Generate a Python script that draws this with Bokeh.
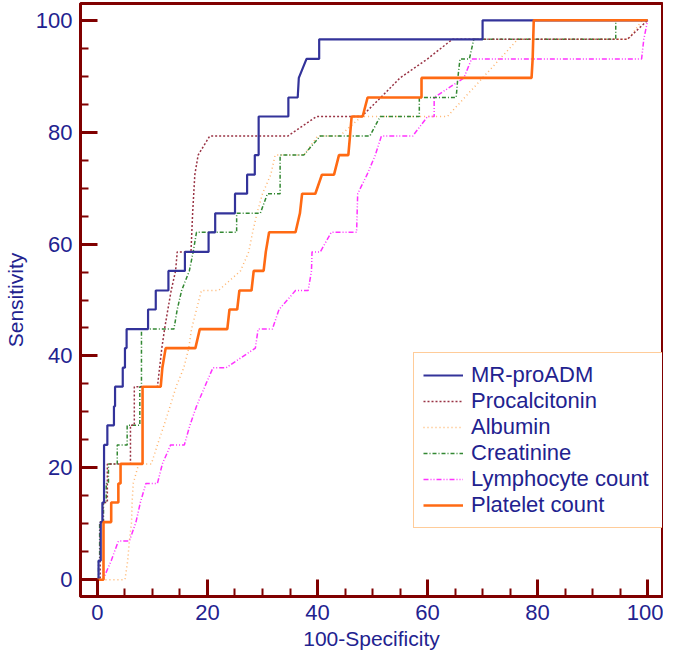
from bokeh.plotting import figure
from bokeh.models import Range1d, FixedTicker, Legend, LegendItem
from bokeh.embed import file_html
from bokeh.resources import INLINE

# ---- data ----
x_ticks = [0, 20, 40, 60, 80, 100]
y_ticks = [0, 20, 40, 60, 80, 100]
minor_ticks = [5, 10, 15, 25, 30, 35, 45, 50, 55, 65, 70, 75, 85, 90, 95]
x_title = "100-Specificity"
y_title = "Sensitivity"

series_names = ["MR-proADM", "Procalcitonin", "Albumin", "Creatinine",
                "Lymphocyte count", "Platelet count"]

mr_proadm_x = [0, 0.2, 0.2, 0.6, 0.6, 0.9, 0.9, 1.2, 1.2, 1.8, 1.8, 3.0, 3.0, 3.2, 3.2,
               4.6, 4.6, 5.0, 5.0, 5.3, 5.3, 9.2, 9.2, 10.6, 10.6, 12.9, 12.9, 15.9, 15.9,
               20.2, 20.2, 21.4, 21.4, 25.0, 25.0, 27.2, 27.2, 28.6, 28.6, 29.3, 29.3,
               34.7, 34.7, 36.4, 36.6, 38.0, 40.3, 40.3, 70.0, 70.0, 100]
mr_proadm_y = [0, 0, 3.4, 3.4, 10.3, 10.3, 13.8, 13.8, 24.1, 24.1, 27.6, 27.6, 31.0, 31.0, 34.5,
               34.5, 37.9, 37.9, 41.4, 41.4, 44.8, 44.8, 48.3, 48.3, 51.7, 51.7, 55.2, 55.2, 58.6,
               58.6, 62.1, 62.1, 65.5, 65.5, 69.0, 69.0, 72.4, 72.4, 75.9, 75.9, 82.8,
               82.8, 86.2, 86.2, 89.7, 93.1, 93.1, 96.6, 96.6, 100, 100]

procalcitonin_x = [0, 0.5, 0.5, 1.0, 1.0, 1.8, 1.8, 6.0, 6.0, 6.7, 6.7, 10.9, 11.3, 11.7, 12.2,
                   12.8, 13.4, 14.2, 14.5, 17.0, 17.3, 17.7, 18.3, 20.4, 34.6, 39.8, 48.0,
                   51.5, 55.0, 60.0, 64.5, 96.3, 100]
procalcitonin_y = [0, 0, 10.3, 10.3, 13.8, 13.8, 20.7, 20.7, 27.6, 27.6, 34.5, 34.5, 37.9, 41.4, 44.8,
                   48.3, 51.7, 55.2, 58.6, 58.6, 65.5, 72.4, 75.9, 79.3, 79.3, 82.8, 82.8,
                   86.2, 89.7, 93.1, 96.6, 96.6, 100]

albumin_x = [0, 5.0, 5.5, 5.8, 6.2, 6.3, 6.5, 7.5, 9.8, 10.9, 12.1, 13.2, 14.3, 15.7, 16.6,
             17.1, 18.0, 18.9, 22.0, 26.0, 27.5, 28.2, 29.0, 30.0, 31.5, 32.3, 37.5, 40.0,
             44.0, 48.0, 63.6, 76.4, 96.5, 99.0, 100]
albumin_y = [0, 0, 3.4, 6.9, 10.3, 13.8, 17.2, 20.7, 20.7, 24.1, 27.6, 31.0, 34.5, 37.9, 41.4,
             44.8, 48.3, 51.7, 51.7, 55.2, 58.6, 62.1, 65.5, 69.0, 72.4, 75.9, 75.9, 79.3,
             79.3, 82.8, 82.8, 96.6, 96.6, 100, 100]

creatinine_x = [0, 0.2, 0.2, 0.4, 0.4, 1.1, 1.1, 1.6, 1.6, 2.0, 2.0, 3.6, 3.6, 5.4, 5.4, 7.7, 7.7,
                8.0, 8.0, 13.9, 14.5, 15.3, 16.7, 17.4, 18.0, 25.3, 25.3, 29.6, 30.9, 33.2,
                33.2, 37.5, 40.5, 49.5, 51.4, 58.5, 58.5, 65.2, 65.5, 65.9, 67.6, 68.4, 94.2,
                94.2, 100]
creatinine_y = [0, 0, 3.4, 3.4, 10.3, 10.3, 13.8, 13.8, 17.2, 17.2, 20.7, 20.7, 24.1, 24.1, 27.6, 27.6,
                34.5, 34.5, 44.8, 44.8, 48.3, 51.7, 55.2, 58.6, 62.1, 62.1, 65.5, 65.5, 69.0, 69.0,
                75.9, 75.9, 79.3, 79.3, 82.8, 82.8, 86.2, 86.2, 89.7, 93.1, 93.1, 96.6, 96.6,
                100, 100]

lymphocyte_x = [0, 1.0, 2.5, 3.8, 5.8, 7.0, 7.8, 8.8, 10.9, 11.8, 13.3, 15.8, 16.8, 18.0, 19.5,
                21.0, 23.4, 28.7, 29.2, 31.8, 33.0, 36.0, 38.3, 38.9, 39.0, 40.5, 42.5, 47.1,
                47.3, 49.0, 50.5, 51.6, 57.3, 60.0, 61.2, 61.2, 66.6, 68.0, 98.9, 99.3, 100]
lymphocyte_y = [0, 0, 3.4, 6.9, 6.9, 10.3, 13.8, 17.2, 17.2, 20.7, 24.1, 24.1, 27.6, 31.0, 34.5,
                37.9, 37.9, 41.4, 44.8, 44.8, 48.3, 51.7, 51.7, 55.2, 58.6, 58.6, 62.1, 62.1,
                69.0, 72.4, 75.9, 79.3, 79.3, 82.8, 82.8, 86.2, 89.7, 93.1, 93.1, 96.6, 100]

platelet_x = [0, 1.1, 1.1, 2.5, 2.5, 3.8, 3.8, 4.2, 4.2, 8.2, 8.2, 11.5, 11.8, 12.4, 17.8, 18.6,
              23.6, 24.0, 25.4, 25.8, 28.0, 28.4, 30.2, 30.6, 31.2, 36.0, 36.8, 37.2, 39.6,
              40.8, 43.0, 43.9, 45.6, 45.9, 46.2, 48.2, 49.1, 58.9, 58.9, 78.9, 79.1, 79.3, 100]
platelet_y = [0, 0, 10.3, 10.3, 13.8, 13.8, 17.2, 17.2, 20.7, 20.7, 34.5, 34.5, 37.9, 41.4, 41.4, 44.8,
              44.8, 48.3, 48.3, 51.7, 51.7, 55.2, 55.2, 58.6, 62.1, 62.1, 65.5, 69.0, 69.0,
              72.4, 72.4, 75.9, 75.9, 79.3, 82.8, 82.8, 86.2, 86.2, 89.7, 89.7, 93.1, 100, 100]

# ---- figure ----
FRAME = "#800000"
NAVY = "#22228f"
FONT = "Liberation Sans"

p = figure(width=663, height=653, output_backend="svg", toolbar_location=None,
           x_range=Range1d(-3.08, 102.7), y_range=Range1d(-3, 103),
           min_border_left=78, min_border_right=1, min_border_top=3, min_border_bottom=57)
p.background_fill_color = "white"
p.border_fill_color = "white"
p.xgrid.visible = False
p.ygrid.visible = False
p.outline_line_color = FRAME
p.outline_line_width = 3

for ax, ticks in ((p.xaxis[0], x_ticks), (p.yaxis[0], y_ticks)):
    ax.ticker = FixedTicker(ticks=ticks, minor_ticks=minor_ticks)
    ax.axis_line_color = FRAME
    ax.axis_line_width = 3
    ax.major_tick_line_color = FRAME
    ax.major_tick_line_width = 3
    ax.minor_tick_line_color = FRAME
    ax.minor_tick_line_width = 2
    ax.major_tick_in = 17
    ax.major_tick_out = 0
    ax.minor_tick_in = 8
    ax.minor_tick_out = 0
    ax.major_label_text_color = NAVY
    ax.major_label_text_font = FONT
    ax.major_label_text_font_size = "22px"
    ax.axis_label_text_color = NAVY
    ax.axis_label_text_font = FONT
    ax.axis_label_text_font_size = "21px"
    ax.axis_label_text_font_style = "normal"

p.xaxis.axis_label = x_title
p.yaxis.axis_label = y_title
p.xaxis.major_label_standoff = 8
p.yaxis.major_label_standoff = 8
p.xaxis.axis_label_standoff = 4
p.yaxis.axis_label_standoff = 6

styles = [
    (mr_proadm_x, mr_proadm_y, "#33339a", 2.2, "solid"),
    (procalcitonin_x, procalcitonin_y, "#993344", 1.5, "2 2"),
    (albumin_x, albumin_y, "#ffb36b", 1.5, "1 3"),
    (creatinine_x, creatinine_y, "#338833", 1.5, "4 2 1 2"),
    (lymphocyte_x, lymphocyte_y, "#ff33ff", 1.5, "5 2 1 2 1 2"),
    (platelet_x, platelet_y, "#ff6a13", 2.6, "solid"),
]

order = [4, 2, 3, 1, 0, 5]
rmap = {}
for i in order:
    xs, ys, col, w, dash = styles[i]
    rmap[i] = p.line(xs, ys, line_color=col, line_width=w, line_dash=dash)

items = [LegendItem(label=series_names[i], renderers=[rmap[i]]) for i in range(6)]
legend = Legend(items=items, location=(333, 68))
legend.border_line_color = "#ff9933"
legend.border_line_width = 1.2
legend.background_fill_color = "white"
legend.background_fill_alpha = 1
legend.label_text_color = NAVY
legend.label_text_font = FONT
legend.label_text_font_size = "22px"
legend.label_height = 26
legend.glyph_height = 26
legend.glyph_width = 40
legend.label_standoff = 8
legend.label_width = 186
legend.spacing = 0
legend.padding = 9
legend.margin = 0
p.add_layout(legend)

open("out.html", "w").write(file_html(p, INLINE))
